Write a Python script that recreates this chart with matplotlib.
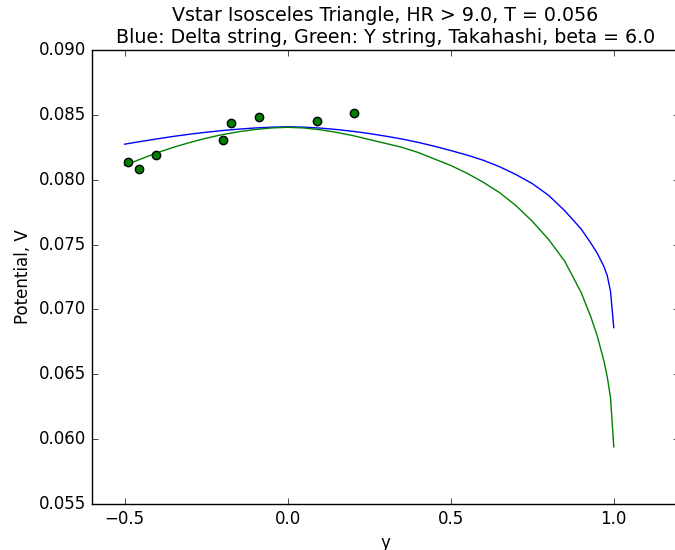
import matplotlib
matplotlib.use("Agg")
import matplotlib.pyplot as plt

plt.style.use("classic")

# curve samples
curve_y = [-0.5, -0.45, -0.4, -0.35, -0.3, -0.25, -0.2, -0.15, -0.1, -0.05,
           0.0, 0.05, 0.1, 0.15, 0.2, 0.25, 0.3, 0.35, 0.4, 0.45,
           0.5, 0.55, 0.6, 0.65, 0.7, 0.75, 0.8, 0.85, 0.9, 0.93,
           0.95, 0.97, 0.98, 0.99, 1.0]
delta_v = [0.08274, 0.08295, 0.08315, 0.08334, 0.08351, 0.08366, 0.08379,
           0.0839, 0.08399, 0.08405, 0.08408, 0.08405, 0.08398, 0.08387,
           0.08373, 0.08356, 0.08336, 0.08314, 0.08288, 0.08258, 0.08225,
           0.0819, 0.0815, 0.0810, 0.0804, 0.0797, 0.0788, 0.0776, 0.0762,
           0.0751, 0.0743, 0.0733, 0.0726, 0.0714, 0.0686]
ystr_v = [0.0811, 0.0816, 0.08208, 0.0825, 0.08287, 0.0832, 0.08348, 0.0837,
          0.08387, 0.08399, 0.08404, 0.08399, 0.08385, 0.08365, 0.0834,
          0.0831, 0.0828, 0.0825, 0.0821, 0.0816, 0.0811, 0.0805,
          0.0798, 0.0790, 0.0780, 0.0768, 0.0754, 0.0737, 0.0713, 0.0694,
          0.0679, 0.0660, 0.0648, 0.0632, 0.0594]

# measured points
pts_y = [-0.491, -0.457, -0.404, -0.197, -0.173, -0.087, 0.091, 0.203]
pts_v = [0.08134, 0.0808, 0.08188, 0.08309, 0.08435, 0.08486, 0.08453, 0.08517]

fig = plt.figure(figsize=(6.75, 5.5), dpi=100, facecolor="white")
ax = fig.add_axes([92 / 675, 46 / 550, 587 / 675, 454 / 550])

ax.plot(curve_y, delta_v, color="b", lw=1)
ax.plot(curve_y, ystr_v, color="g", lw=1)
ax.plot(pts_y, pts_v, "o", mfc="g", mec="k", ms=6, mew=1)

ax.set_xlim(-0.6, 1.2)
ax.set_ylim(0.055, 0.090)
ax.set_xticks([-0.5, 0.0, 0.5, 1.0])
ax.set_xlabel("y")
ax.set_ylabel("Potential, V")
ax.set_title("Vstar Isosceles Triangle, HR > 9.0, T = 0.056\n"
             "Blue: Delta string, Green: Y string, Takahashi, beta = 6.0",
             fontsize=13.7)

fig.savefig("out.png", facecolor="white")
